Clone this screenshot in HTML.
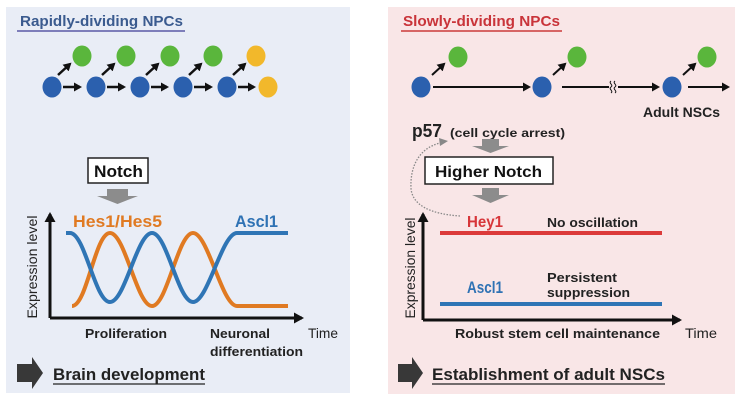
<!DOCTYPE html>
<html>
<head>
<meta charset="utf-8">
<style>
  html, body { margin:0; padding:0; background:#ffffff; }
  svg { display:block; }
  text { font-family: "Liberation Sans", Arial, sans-serif; }
  .b { font-weight:bold; }
</style>
</head>
<body>
<svg width="742" height="400" viewBox="0 0 742 400" xmlns="http://www.w3.org/2000/svg">
  <defs>
    <marker id="ah" markerWidth="9" markerHeight="9" refX="6" refY="4.5" orient="auto" markerUnits="userSpaceOnUse">
      <path d="M0,0 L8,4.5 L0,9 Z" fill="#111"/>
    </marker>
    <marker id="ax" markerWidth="11" markerHeight="11" refX="8" refY="5.5" orient="auto" markerUnits="userSpaceOnUse">
      <path d="M0,0 L10,5.5 L0,11 Z" fill="#111"/>
    </marker>
  </defs>

  <!-- Panels -->
  <rect x="6" y="7" width="344" height="386" fill="#e9edf6"/>
  <rect x="388" y="7" width="347" height="387" fill="#f9e6e7"/>

  <!-- ===== LEFT PANEL ===== -->
  <text x="20" y="26" class="b" font-size="15" fill="#3b5b8f" textLength="163" lengthAdjust="spacingAndGlyphs">Rapidly-dividing NPCs</text>
  <line x1="17" y1="31" x2="185" y2="31" stroke="#5b5aa6" stroke-width="1.6"/>

  <!-- cells -->
  <g>
    <ellipse cx="52" cy="87" rx="9.5" ry="10.5" fill="#2b60ae"/>
    <ellipse cx="96" cy="87" rx="9.5" ry="10.5" fill="#2b60ae"/>
    <ellipse cx="140" cy="87" rx="9.5" ry="10.5" fill="#2b60ae"/>
    <ellipse cx="183" cy="87" rx="9.5" ry="10.5" fill="#2b60ae"/>
    <ellipse cx="227" cy="87" rx="9.5" ry="10.5" fill="#2b60ae"/>
    <ellipse cx="268" cy="87" rx="9.5" ry="10.5" fill="#f2b82b"/>
    <ellipse cx="82" cy="56" rx="9.5" ry="10.5" fill="#5ab63c"/>
    <ellipse cx="126" cy="56" rx="9.5" ry="10.5" fill="#5ab63c"/>
    <ellipse cx="170" cy="56" rx="9.5" ry="10.5" fill="#5ab63c"/>
    <ellipse cx="213" cy="56" rx="9.5" ry="10.5" fill="#5ab63c"/>
    <ellipse cx="256" cy="56" rx="9.5" ry="10.5" fill="#f2b82b"/>
  </g>
  <g stroke="#111" stroke-width="2.5" marker-end="url(#ah)">
    <line x1="63" y1="87" x2="80" y2="87"/>
    <line x1="107" y1="87" x2="124" y2="87"/>
    <line x1="151" y1="87" x2="167" y2="87"/>
    <line x1="194" y1="87" x2="211" y2="87"/>
    <line x1="238" y1="87" x2="254" y2="87"/>
    <line x1="58" y1="75" x2="70" y2="64"/>
    <line x1="102" y1="75" x2="114" y2="64"/>
    <line x1="146" y1="75" x2="158" y2="64"/>
    <line x1="189" y1="75" x2="201" y2="64"/>
    <line x1="233" y1="75" x2="245" y2="64"/>
  </g>

  <!-- Notch box -->
  <rect x="88" y="158" width="60" height="25" fill="#fff" stroke="#222" stroke-width="1.5"/>
  <text x="94" y="177" class="b" font-size="17" fill="#111" textLength="49" lengthAdjust="spacingAndGlyphs">Notch</text>
  <polygon points="107,189 128,189 128,196 138,196 117.5,204 97,196 107,196" fill="#8c8c8c"/>

  <!-- Graph left -->
  <text x="73" y="227" class="b" font-size="17" fill="#e07a22" textLength="89" lengthAdjust="spacingAndGlyphs">Hes1/Hes5</text>
  <text x="235" y="227" class="b" font-size="17" fill="#2f72b4" textLength="43" lengthAdjust="spacingAndGlyphs">Ascl1</text>

  <path d="M72 306 C87 306, 95 233, 110 233 C125 233, 137 306, 152 306 C167 306, 178 233, 193 233 C208 233, 222 306, 237 306 L288 306" fill="none" stroke="#e07a22" stroke-width="4"/>
  <path d="M66 233 L70 233 C85 233, 95 302, 110 302 C125 302, 137 233, 152 233 C167 233, 178 302, 193 302 C208 302, 222 233, 237 233 L288 233" fill="none" stroke="#2f75b5" stroke-width="4"/>

  <line x1="50" y1="318" x2="50" y2="214" stroke="#111" stroke-width="3" marker-end="url(#ax)"/>
  <line x1="50" y1="318" x2="302" y2="318" stroke="#111" stroke-width="3" marker-end="url(#ax)"/>

  <text transform="translate(37,267) rotate(-90)" text-anchor="middle" font-size="14" fill="#222" textLength="103" lengthAdjust="spacingAndGlyphs">Expression level</text>
  <text x="85" y="338" class="b" font-size="13" fill="#222" textLength="82" lengthAdjust="spacingAndGlyphs">Proliferation</text>
  <text x="210" y="338" class="b" font-size="13" fill="#222" textLength="60" lengthAdjust="spacingAndGlyphs">Neuronal</text>
  <text x="210" y="356" class="b" font-size="13" fill="#222" textLength="93" lengthAdjust="spacingAndGlyphs">differentiation</text>
  <text x="308" y="338" font-size="14" fill="#222" textLength="30" lengthAdjust="spacingAndGlyphs">Time</text>

  <polygon points="17,364 32,364 32,357 43,373 32,389 32,382 17,382" fill="#383838"/>
  <text x="53" y="380" class="b" font-size="17" fill="#222" textLength="152" lengthAdjust="spacingAndGlyphs">Brain development</text>
  <line x1="53" y1="384" x2="205" y2="384" stroke="#222" stroke-width="1.3"/>

  <!-- ===== RIGHT PANEL ===== -->
  <text x="403" y="26" class="b" font-size="15" fill="#c9343a" textLength="157" lengthAdjust="spacingAndGlyphs">Slowly-dividing NPCs</text>
  <line x1="401" y1="31" x2="562" y2="31" stroke="#cc3a3a" stroke-width="1.6"/>

  <ellipse cx="421" cy="87" rx="9.5" ry="10.5" fill="#2b60ae"/>
  <ellipse cx="542" cy="87" rx="9.5" ry="10.5" fill="#2b60ae"/>
  <ellipse cx="672" cy="87" rx="9.5" ry="10.5" fill="#2b60ae"/>
  <ellipse cx="458" cy="57" rx="9.5" ry="10.5" fill="#5ab63c"/>
  <ellipse cx="577" cy="57" rx="9.5" ry="10.5" fill="#5ab63c"/>
  <ellipse cx="707" cy="57" rx="9.5" ry="10.5" fill="#5ab63c"/>

  <g stroke="#111" stroke-width="2" marker-end="url(#ah)">
    <line x1="433" y1="87" x2="529" y2="87"/>
    <line x1="618" y1="87" x2="658" y2="87"/>
    <line x1="688" y1="87" x2="728" y2="87"/>
    <line x1="432" y1="75" x2="444" y2="64"/>
    <line x1="553" y1="75" x2="565" y2="64"/>
    <line x1="683" y1="75" x2="695" y2="64"/>
  </g>
  <line x1="562" y1="87" x2="609" y2="87" stroke="#111" stroke-width="2"/>
  <path d="M611 81 c-3 2, 3 4, 0 6 c-3 2, 3 4, 0 6 M615 81 c-3 2, 3 4, 0 6 c-3 2, 3 4, 0 6" fill="none" stroke="#111" stroke-width="1"/>

  <text x="643" y="117" class="b" font-size="14" fill="#222" textLength="77" lengthAdjust="spacingAndGlyphs">Adult NSCs</text>

  <text x="412" y="137" class="b" font-size="18" fill="#222" textLength="30" lengthAdjust="spacingAndGlyphs">p57</text>
  <text x="450" y="137" class="b" font-size="12" fill="#222" textLength="115" lengthAdjust="spacingAndGlyphs">(cell cycle arrest)</text>

  <polygon points="482,139 499,139 499,146 509,146 490.5,153 472,146 482,146" fill="#8c8c8c"/>
  <rect x="425" y="157" width="128" height="27" fill="#fff" stroke="#222" stroke-width="1.5"/>
  <text x="435" y="177" class="b" font-size="16" fill="#111" textLength="107" lengthAdjust="spacingAndGlyphs">Higher Notch</text>
  <polygon points="482,188 499,188 499,195 509,195 490.5,203 472,195 482,195" fill="#8c8c8c"/>

  <!-- dotted feedback -->
  <path d="M460 216 C430 214, 412 205, 411 188 C410 165, 420 148, 440 143" fill="none" stroke="#888" stroke-width="1.3" stroke-dasharray="1.5 1.5"/>
  <polygon points="448,141 439,138 440,146" fill="#888"/>

  <!-- Graph right -->
  <text x="467" y="227" class="b" font-size="16" fill="#d7363a" textLength="36" lengthAdjust="spacingAndGlyphs">Hey1</text>
  <text x="547" y="227" class="b" font-size="13" fill="#222" textLength="91" lengthAdjust="spacingAndGlyphs">No oscillation</text>
  <line x1="440" y1="233" x2="662" y2="233" stroke="#dc3a3a" stroke-width="4"/>

  <text x="467" y="293" class="b" font-size="17" fill="#2f72b4" textLength="36" lengthAdjust="spacingAndGlyphs">Ascl1</text>
  <text x="547" y="282" class="b" font-size="13" fill="#222" textLength="70" lengthAdjust="spacingAndGlyphs">Persistent</text>
  <text x="547" y="297" class="b" font-size="13" fill="#222" textLength="83" lengthAdjust="spacingAndGlyphs">suppression</text>
  <line x1="440" y1="304" x2="662" y2="304" stroke="#2f75b5" stroke-width="4"/>

  <line x1="423" y1="320" x2="423" y2="214" stroke="#111" stroke-width="3" marker-end="url(#ax)"/>
  <line x1="423" y1="320" x2="680" y2="320" stroke="#111" stroke-width="3" marker-end="url(#ax)"/>

  <text transform="translate(415,268) rotate(-90)" text-anchor="middle" font-size="14" fill="#222" textLength="101" lengthAdjust="spacingAndGlyphs">Expression level</text>
  <text x="455" y="338" class="b" font-size="13" fill="#222" textLength="205" lengthAdjust="spacingAndGlyphs">Robust stem cell maintenance</text>
  <text x="685" y="338" font-size="14" fill="#222" textLength="32" lengthAdjust="spacingAndGlyphs">Time</text>

  <polygon points="398,364 412,364 412,357 423,373 412,389 412,382 398,382" fill="#383838"/>
  <text x="432" y="380" class="b" font-size="17" fill="#222" textLength="233" lengthAdjust="spacingAndGlyphs">Establishment of adult NSCs</text>
  <line x1="432" y1="384" x2="665" y2="384" stroke="#222" stroke-width="1.3"/>
</svg>
</body>
</html>
